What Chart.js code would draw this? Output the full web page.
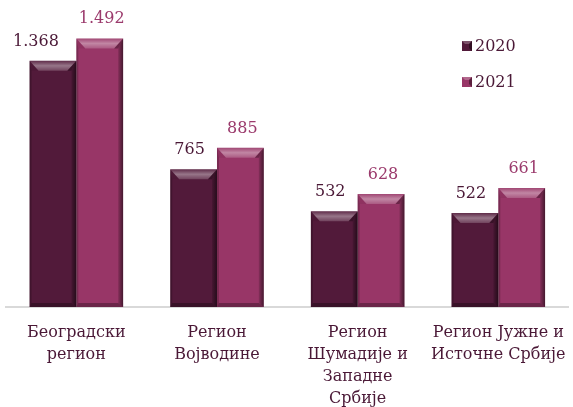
<!DOCTYPE html>
<html>
<head>
<meta charset="utf-8">
<style>
  html, body { margin: 0; padding: 0; background: #fff; }
  #wrap { width: 573px; height: 407px; }
</style>
</head>
<body>
<div id="wrap"><canvas id="regChart"></canvas></div>
<script src="https://cdn.jsdelivr.net/npm/chart.js"></script>
<script>
const regions = [
  ['Београдски', 'регион'],
  ['Регион', 'Војводине'],
  ['Регион', 'Шумадије и', 'Западне', 'Србије'],
  ['Регион Јужне и', 'Источне Србије']
];
const years = ['2020', '2021'];
const values2020 = [1368, 765, 532, 522];
const values2021 = [1492, 885, 628, 661];

(() => {
  const FONT = "'DejaVu Serif', serif";
  const barColors = ['#521a3a', '#983667'];
  const textColors = ['#4a1836', '#9b3a6c'];

  const fmt = v => v >= 1000 ? Math.floor(v / 1000) + '.' + String(v % 1000).padStart(3, '0') : String(v);

  // bevelled look + value labels
  const bevel = {
    id: 'bevel',
    afterDatasetsDraw(chart) {
      const ctx = chart.ctx;
      chart.data.datasets.forEach((ds, di) => {
        chart.getDatasetMeta(di).data.forEach((bar, i) => {
          const l = bar.x - bar.width / 2, r = bar.x + bar.width / 2;
          const t = bar.y, b = bar.base;
          const st = 10, ti = 9, sr = 5, sl = 2, sb = 4;
          const poly = (pts, fill) => {
            ctx.beginPath();
            ctx.moveTo(pts[0][0], pts[0][1]);
            pts.slice(1).forEach(p => ctx.lineTo(p[0], p[1]));
            ctx.closePath();
            ctx.fillStyle = fill;
            ctx.fill();
          };
          ctx.save();
          // right side
          const gr = ctx.createLinearGradient(r - sr, 0, r, 0);
          gr.addColorStop(0, 'rgba(0,0,0,0.12)');
          gr.addColorStop(1, 'rgba(0,0,0,0.55)');
          poly([[r, t], [r, b], [r - sr, b - sb], [r - sr, t + st]], gr);
          // left side
          poly([[l, t], [l + sl, t + st], [l + sl, b - sb], [l, b]], 'rgba(0,0,0,0.2)');
          // bottom
          poly([[l, b], [l + sl, b - sb], [r - sr, b - sb], [r, b]], 'rgba(0,0,0,0.3)');
          // top bevel, glossy band
          const gt = ctx.createLinearGradient(0, t, 0, t + st);
          gt.addColorStop(0, 'rgba(255,255,255,0.08)');
          gt.addColorStop(0.5, 'rgba(255,255,255,0.4)');
          gt.addColorStop(1, 'rgba(255,255,255,0.18)');
          poly([[l, t], [r, t], [r - ti, t + st], [l + ti, t + st]], gt);
          // upper corner facets
          poly([[l, t], [l + ti, t + st], [l + sl, t + st]], 'rgba(0,0,0,0.06)');
          poly([[r, t], [r - ti, t + st], [r - sr, t + st]], 'rgba(0,0,0,0.3)');
          // value
          ctx.fillStyle = textColors[di];
          ctx.font = '16px ' + FONT;
          ctx.textAlign = 'center';
          ctx.textBaseline = 'alphabetic';
          const off = di === 0 ? (i === 0 ? -17 : -4) : 2;
          ctx.fillText(fmt(ds.data[i]), bar.x + off, t - 15);
          ctx.restore();
        });
      });
    }
  };

  // legend in top right corner
  const legendBox = {
    id: 'legendBox',
    afterDraw(chart) {
      const ctx = chart.ctx;
      ctx.save();
      years.forEach((y, i) => {
        const yy = 46 + i * 36;
        const x = 462;
        ctx.fillStyle = barColors[i];
        ctx.fillRect(x, yy - 5, 10, 10);
        ctx.fillStyle = 'rgba(255,255,255,0.25)';
        ctx.beginPath();
        ctx.moveTo(x, yy - 5); ctx.lineTo(x + 10, yy - 5); ctx.lineTo(x + 7, yy - 2); ctx.lineTo(x + 3, yy - 2);
        ctx.fill();
        ctx.fillStyle = 'rgba(0,0,0,0.4)';
        ctx.beginPath();
        ctx.moveTo(x + 10, yy - 5); ctx.lineTo(x + 10, yy + 5); ctx.lineTo(x + 7, yy + 2); ctx.lineTo(x + 7, yy - 2);
        ctx.fill();
        ctx.fillStyle = '#4a1836';
        ctx.font = '16px ' + FONT;
        ctx.textAlign = 'left';
        ctx.textBaseline = 'middle';
        ctx.fillText(y, x + 13, yy + 1);
      });
      ctx.restore();
    }
  };

  new Chart(document.getElementById('regChart'), {
    type: 'bar',
    data: {
      labels: regions,
      datasets: [
        { label: years[0], data: values2020, backgroundColor: barColors[0] },
        { label: years[1], data: values2021, backgroundColor: barColors[1] }
      ]
    },
    options: {
      responsive: true,
      maintainAspectRatio: false,
      animation: false,
      categoryPercentage: 0.665,
      barPercentage: 1,
      layout: { padding: { left: 6, right: 4, top: 19, bottom: -10 } },
      plugins: {
        legend: { display: false },
        tooltip: { enabled: false }
      },
      scales: {
        x: {
          grid: { display: false },
          border: { display: true, color: '#d9d9d9', width: 2 },
          ticks: {
            color: '#4a1836',
            font: { family: FONT, size: 16, lineHeight: '22px' },
            maxRotation: 0,
            autoSkip: false,
            padding: 7
          }
        },
        y: {
          display: false,
          min: 0,
          max: 1600
        }
      }
    },
    plugins: [bevel, legendBox]
  });
})();
</script>
</body>
</html>
